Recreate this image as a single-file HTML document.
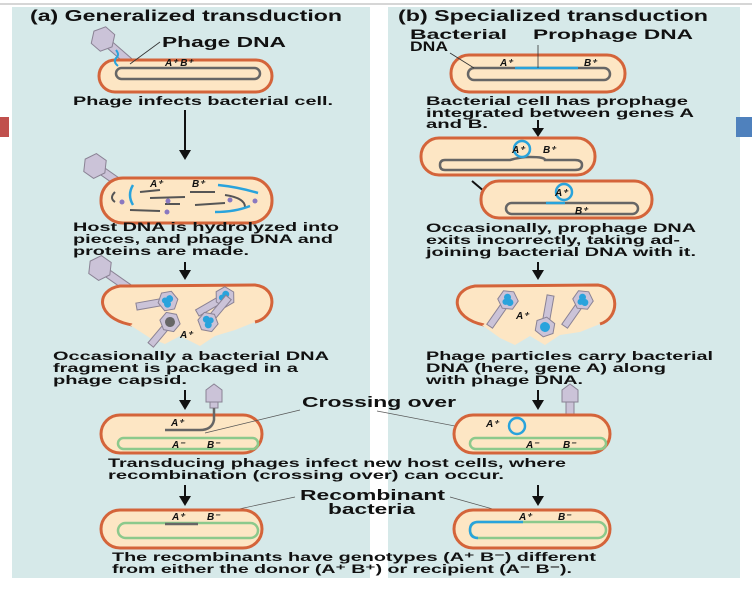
<!DOCTYPE html>
<html><head><meta charset="utf-8"><style>
html,body{margin:0;padding:0;background:#fff;}
svg{display:block;}
text{font-family:"Liberation Sans",Arial,sans-serif;font-weight:bold;fill:#111;}
.c{font-size:12px;}
.g{font-size:10px;font-style:italic;}
</style></head><body>
<svg width="752" height="594" viewBox="0 0 752 594" xmlns="http://www.w3.org/2000/svg">
<defs>
  <g id="ph">
    <rect x="-4" y="8" width="8" height="32" fill="#cbc3d8" stroke="#8a8294" stroke-width="1"/>
    <polygon points="0,-12 11,-6 11,6 0,12 -11,6 -11,-6" fill="#cbc3d8" stroke="#8a8294" stroke-width="1"/>
  </g>
  <g id="php">
    <rect x="-3.5" y="6" width="7" height="26" fill="#cbc3d8" stroke="#8a8294" stroke-width="1"/>
    <polygon points="0,-10 9,-5 9,5 0,10 -9,5 -9,-5" fill="#cbc3d8" stroke="#8a8294" stroke-width="1"/>
    <circle cx="-2" cy="-2" r="3.5" fill="#29a3dc"/><circle cx="3" cy="1" r="3.5" fill="#29a3dc"/><circle cx="-1" cy="3" r="3" fill="#29a3dc"/>
  </g>
</defs>
<rect x="0" y="0" width="752" height="594" fill="#fff"/>
<line x1="0" y1="4" x2="752" y2="4" stroke="#c8c8c8" stroke-width="1.5"/>
<rect x="12" y="7" width="358" height="571" fill="#d6e9e9"/>
<rect x="388" y="7" width="352" height="571" fill="#d6e9e9"/>
<rect x="0" y="117" width="9" height="20" fill="#c0504d"/>
<rect x="736" y="117" width="16" height="20" fill="#4f81bd"/>

<!-- LEFT PANEL -->
<text x="30" y="21" font-size="16" textLength="312" lengthAdjust="spacingAndGlyphs">(a) Generalized transduction</text>
<use href="#ph" transform="translate(103,39) rotate(-49)"/>
<rect x="99" y="60" width="173" height="32" rx="16" fill="#fde6c4" stroke="#d4643a" stroke-width="3"/>
<rect x="116" y="68" width="144" height="11" rx="5.5" fill="none" stroke="#666" stroke-width="2.5"/>
<path d="M116,50 q4,5 0,8 q-3,4 2,8" stroke="#29a3dc" stroke-width="2" fill="none"/>
<line x1="130" y1="64" x2="160" y2="42" stroke="#333" stroke-width="0.8"/>
<text x="162" y="47" font-size="15" textLength="124" lengthAdjust="spacingAndGlyphs">Phage DNA</text>
<text x="165" y="66" class="g">A⁺ B⁺</text>
<text x="73" y="105" class="c" textLength="260" lengthAdjust="spacingAndGlyphs">Phage infects bacterial cell.</text>
<line x1="185" y1="110" x2="185" y2="152" stroke="#111" stroke-width="2"/>
<polygon points="179,150 191,150 185,160" fill="#111"/>
<use href="#ph" transform="translate(95,166) rotate(-55)"/>
<rect x="101" y="178" width="171" height="45" rx="22" fill="#fde6c4" stroke="#d4643a" stroke-width="3"/>
<g stroke="#555" stroke-width="2" fill="none">
<path d="M115,192 q-6,6 0,10"/><line x1="140" y1="192" x2="160" y2="190"/><line x1="150" y1="198" x2="185" y2="197"/><line x1="190" y1="192" x2="215" y2="192"/><line x1="195" y1="205" x2="225" y2="203"/><line x1="130" y1="210" x2="160" y2="211"/><path d="M225,195 q20,3 20,12"/><line x1="165" y1="204" x2="180" y2="204"/>
</g>
<g stroke="#29a3dc" stroke-width="2.5" fill="none">
<path d="M133,185 q-6,10 0,20"/><path d="M218,185 q20,2 40,8"/><path d="M215,212 q20,0 35,-6"/>
</g>
<g fill="#8a78c0"><circle cx="122" cy="202" r="2.5"/><circle cx="168" cy="201" r="2.5"/><circle cx="167" cy="212" r="2.5"/><circle cx="230" cy="200" r="2.5"/><circle cx="255" cy="201" r="2.5"/></g>
<text x="150" y="187" class="g">A⁺</text><text x="192" y="187" class="g">B⁺</text>
<text x="73" y="231" class="c" textLength="266" lengthAdjust="spacingAndGlyphs">Host DNA is hydrolyzed into</text>
<text x="73" y="243" class="c" textLength="260" lengthAdjust="spacingAndGlyphs">pieces, and phage DNA and</text>
<text x="73" y="255" class="c" textLength="176" lengthAdjust="spacingAndGlyphs">proteins are made.</text>
<line x1="185" y1="262" x2="185" y2="272" stroke="#111" stroke-width="2"/>
<polygon points="179,270 191,270 185,280" fill="#111"/>
<use href="#ph" transform="translate(100,268) rotate(-55)"/>
<path d="M132,325 C95,318 95,290 120,286 L255,285 C280,288 275,318 255,322" fill="#fde6c4" stroke="#d4643a" stroke-width="3"/>
<polygon points="130,325 150,338 165,344 180,336 200,346 215,336 235,330 255,322 175,315" fill="#fde6c4"/>
<use href="#php" transform="translate(168,301) rotate(80)"/>
<use href="#php" transform="translate(225,297) rotate(60)"/>
<use href="#php" transform="translate(208,322) rotate(220)"/>
<g transform="translate(170,322) rotate(40)">
<rect x="-3.5" y="6" width="7" height="24" fill="#cbc3d8" stroke="#8a8294"/>
<polygon points="0,-10 9,-5 9,5 0,10 -9,5 -9,-5" fill="#cbc3d8" stroke="#8a8294"/>
<circle cx="0" cy="0" r="5" fill="#666"/></g>
<text x="180" y="338" class="g">A⁺</text>
<text x="53" y="360" class="c" textLength="276" lengthAdjust="spacingAndGlyphs">Occasionally a bacterial DNA</text>
<text x="53" y="372" class="c" textLength="245" lengthAdjust="spacingAndGlyphs">fragment is packaged in a</text>
<text x="53" y="384" class="c" textLength="134" lengthAdjust="spacingAndGlyphs">phage capsid.</text>
<line x1="185" y1="390" x2="185" y2="402" stroke="#111" stroke-width="2"/>
<polygon points="179,400 191,400 185,410" fill="#111"/>
<rect x="101" y="415" width="161" height="38" rx="19" fill="#fde6c4" stroke="#d4643a" stroke-width="3"/>
<rect x="118" y="438" width="140" height="11" rx="5.5" fill="none" stroke="#8cc98c" stroke-width="2.5"/>
<rect x="210" y="390" width="8" height="18" fill="#cbc3d8" stroke="#8a8294"/>
<polygon points="206,390 214,384 222,390 222,402 206,402" fill="#cbc3d8" stroke="#8a8294"/>
<path d="M214,408 L214,420 Q212,430 200,430 L165,430" stroke="#666" stroke-width="2.5" fill="none"/>
<text x="171" y="426" class="g">A⁺</text><text x="172" y="448" class="g">A⁻</text><text x="207" y="448" class="g">B⁻</text>
<line x1="205" y1="433" x2="300" y2="410" stroke="#555" stroke-width="0.7"/>
<text x="302" y="407" font-size="15" textLength="154" lengthAdjust="spacingAndGlyphs">Crossing over</text>
<line x1="377" y1="411" x2="512" y2="437" stroke="#555" stroke-width="0.7"/>
<text x="108" y="467" class="c" textLength="458" lengthAdjust="spacingAndGlyphs">Transducing phages infect new host cells, where</text>
<text x="108" y="479" class="c" textLength="396" lengthAdjust="spacingAndGlyphs">recombination (crossing over) can occur.</text>
<line x1="185" y1="485" x2="185" y2="498" stroke="#111" stroke-width="2"/>
<polygon points="179,496 191,496 185,506" fill="#111"/>
<text x="300" y="500" font-size="15" textLength="145" lengthAdjust="spacingAndGlyphs">Recombinant</text>
<text x="328" y="514" font-size="15" textLength="87" lengthAdjust="spacingAndGlyphs">bacteria</text>
<line x1="295" y1="497" x2="225" y2="512" stroke="#555" stroke-width="0.7"/>
<line x1="450" y1="497" x2="507" y2="513" stroke="#555" stroke-width="0.7"/>
<rect x="101" y="510" width="161" height="38" rx="19" fill="#fde6c4" stroke="#d4643a" stroke-width="3"/>
<rect x="118" y="523" width="140" height="15" rx="7.5" fill="none" stroke="#8cc98c" stroke-width="2.5"/>
<line x1="165" y1="524" x2="198" y2="524" stroke="#666" stroke-width="2.5"/>
<text x="172" y="520" class="g">A⁺</text><text x="207" y="520" class="g">B⁻</text>
<text x="112" y="561" class="c" textLength="484" lengthAdjust="spacingAndGlyphs">The recombinants have genotypes (A⁺ B⁻) different</text>
<text x="112" y="573" class="c" textLength="460" lengthAdjust="spacingAndGlyphs">from either the donor (A⁺ B⁺) or recipient (A⁻ B⁻).</text>

<!-- RIGHT PANEL -->
<text x="398" y="21" font-size="16" textLength="310" lengthAdjust="spacingAndGlyphs">(b) Specialized transduction</text>
<text x="410" y="39" font-size="14" textLength="97" lengthAdjust="spacingAndGlyphs">Bacterial</text>
<text x="410" y="51" font-size="14" textLength="38" lengthAdjust="spacingAndGlyphs">DNA</text>
<text x="533" y="39" font-size="14" textLength="160" lengthAdjust="spacingAndGlyphs">Prophage DNA</text>
<rect x="451" y="55" width="174" height="37" rx="18" fill="#fde6c4" stroke="#d4643a" stroke-width="3"/>
<rect x="468" y="68" width="142" height="12" rx="6" fill="none" stroke="#666" stroke-width="2.5"/>
<line x1="515" y1="68" x2="578" y2="68" stroke="#29a3dc" stroke-width="2.5"/>
<line x1="538" y1="45" x2="538" y2="68" stroke="#333" stroke-width="0.8"/>
<line x1="450" y1="53" x2="474" y2="68" stroke="#333" stroke-width="0.8"/>
<text x="500" y="66" class="g">A⁺</text><text x="584" y="66" class="g">B⁺</text>
<text x="426" y="105" class="c" textLength="262" lengthAdjust="spacingAndGlyphs">Bacterial cell has prophage</text>
<text x="426" y="117" class="c" textLength="268" lengthAdjust="spacingAndGlyphs">integrated between genes A</text>
<text x="426" y="128" class="c" textLength="62" lengthAdjust="spacingAndGlyphs">and B.</text>
<line x1="538" y1="120" x2="538" y2="129" stroke="#111" stroke-width="2"/>
<polygon points="532,128 544,128 538,137" fill="#111"/>
<rect x="421" y="138" width="174" height="37" rx="18" fill="#fde6c4" stroke="#d4643a" stroke-width="3"/>
<path d="M445,160 L510,160 Q520,157 530,157 Q545,157 545,160 L575,160 Q582,160 582,165 Q582,170 575,170 L445,170 Q440,170 440,165 Q440,160 445,160" fill="none" stroke="#666" stroke-width="2.5"/>
<circle cx="522" cy="149" r="8" fill="none" stroke="#29a3dc" stroke-width="2.5"/>
<text x="512" y="153" class="g">A⁺</text><text x="543" y="153" class="g">B⁺</text>
<line x1="472" y1="181" x2="485" y2="192" stroke="#111" stroke-width="2"/>
<polygon points="480,193 490,186 491,197" fill="#111"/>
<rect x="481" y="181" width="171" height="37" rx="18" fill="#fde6c4" stroke="#d4643a" stroke-width="3"/>
<rect x="506" y="203" width="132" height="11" rx="5.5" fill="none" stroke="#666" stroke-width="2.5"/>
<line x1="546" y1="203" x2="565" y2="203" stroke="#29a3dc" stroke-width="2.5"/>
<circle cx="564" cy="192" r="8" fill="none" stroke="#29a3dc" stroke-width="2.5"/>
<text x="555" y="196" class="g">A⁺</text><text x="575" y="214" class="g" font-size="9">B⁺</text>
<text x="426" y="232" class="c" textLength="270" lengthAdjust="spacingAndGlyphs">Occasionally, prophage DNA</text>
<text x="426" y="244" class="c" textLength="254" lengthAdjust="spacingAndGlyphs">exits incorrectly, taking ad-</text>
<text x="426" y="256" class="c" textLength="270" lengthAdjust="spacingAndGlyphs">joining bacterial DNA with it.</text>
<line x1="538" y1="262" x2="538" y2="272" stroke="#111" stroke-width="2"/>
<polygon points="532,270 544,270 538,280" fill="#111"/>
<path d="M484,325 C450,318 450,290 475,286 L598,285 C620,288 620,318 600,324" fill="#fde6c4" stroke="#d4643a" stroke-width="3"/>
<polygon points="482,325 500,338 515,345 530,336 545,345 560,335 580,332 600,324 540,315" fill="#fde6c4"/>
<use href="#php" transform="translate(508,300) rotate(35)"/>
<use href="#php" transform="translate(583,300) rotate(35)"/>
<g transform="translate(545,327) rotate(190)">
<rect x="-3.5" y="6" width="7" height="26" fill="#cbc3d8" stroke="#8a8294"/>
<polygon points="0,-10 9,-5 9,5 0,10 -9,5 -9,-5" fill="#cbc3d8" stroke="#8a8294"/>
<circle cx="0" cy="0" r="5" fill="#29a3dc"/></g>
<text x="516" y="319" class="g">A⁺</text>
<text x="426" y="360" class="c" textLength="287" lengthAdjust="spacingAndGlyphs">Phage particles carry bacterial</text>
<text x="426" y="372" class="c" textLength="240" lengthAdjust="spacingAndGlyphs">DNA (here, gene A) along</text>
<text x="426" y="384" class="c" textLength="157" lengthAdjust="spacingAndGlyphs">with phage DNA.</text>
<line x1="538" y1="390" x2="538" y2="402" stroke="#111" stroke-width="2"/>
<polygon points="532,400 544,400 538,410" fill="#111"/>
<rect x="566" y="392" width="8" height="24" fill="#cbc3d8" stroke="#8a8294"/>
<polygon points="562,390 570,384 578,390 578,402 562,402" fill="#cbc3d8" stroke="#8a8294"/>
<rect x="454" y="415" width="156" height="38" rx="19" fill="#fde6c4" stroke="#d4643a" stroke-width="3"/>
<rect x="470" y="438" width="136" height="11" rx="5.5" fill="none" stroke="#8cc98c" stroke-width="2.5"/>
<circle cx="517" cy="426" r="8" fill="none" stroke="#29a3dc" stroke-width="2.5"/>
<text x="486" y="427" class="g">A⁺</text><text x="526" y="448" class="g">A⁻</text><text x="563" y="448" class="g">B⁻</text>
<line x1="538" y1="485" x2="538" y2="498" stroke="#111" stroke-width="2"/>
<polygon points="532,496 544,496 538,506" fill="#111"/>
<rect x="454" y="510" width="156" height="38" rx="19" fill="#fde6c4" stroke="#d4643a" stroke-width="3"/>
<rect x="470" y="522" width="136" height="16" rx="8" fill="none" stroke="#8cc98c" stroke-width="2.5"/>
<path d="M478,538 Q470,538 470,530 Q470,522 478,522 L523,522" fill="none" stroke="#29a3dc" stroke-width="2.5"/>
<text x="519" y="520" class="g">A⁺</text><text x="558" y="520" class="g">B⁻</text>
</svg>
</body></html>
